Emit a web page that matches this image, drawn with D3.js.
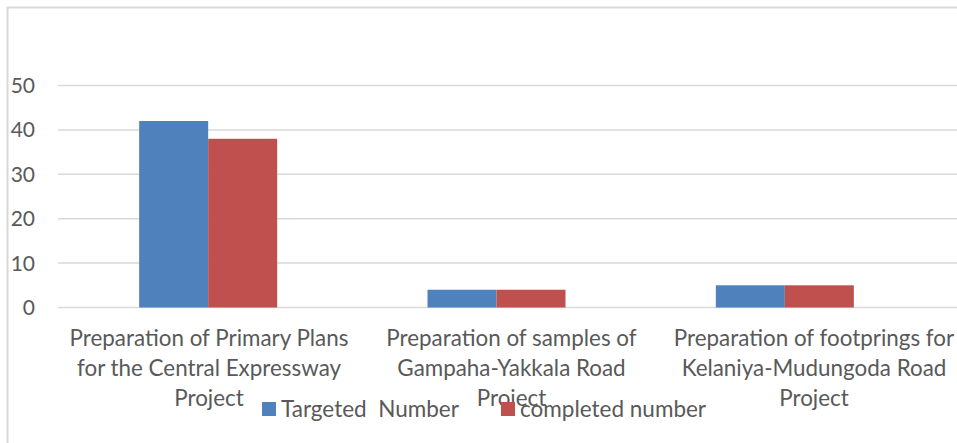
<!DOCTYPE html>
<html><head><meta charset="utf-8">
<script src="https://cdn.jsdelivr.net/npm/d3@7"></script>
<style>body{margin:0;background:#fff;} text{font-family:Lato,"Open Sans",sans-serif;fill:#595959;}</style>
</head><body><svg id="c" width="957" height="443"></svg>
<script>
const categories = [
  ["Preparation of Primary Plans","for the Central Expressway","Project"],
  ["Preparation of samples of","Gampaha-Yakkala Road","Project"],
  ["Preparation of footprings for","Kelaniya-Mudungoda Road","Project"]
];
const seriesNames = ["Targeted  Number","completed number"];
const targeted = [42, 4, 5];
const completed = [38, 4, 5];
const yTicks = [0,10,20,30,40,50];
const colors = ["#4f81bd","#c0504d"];

const svg = d3.select("#c");
// frame
svg.append("path").attr("d","M7.5,443 V7.5 H957").attr("fill","none").attr("stroke","#d9d9d9").attr("stroke-width",2);

const x = d3.scaleBand().domain(d3.range(categories.length)).range([64,929]);
const xLabel = d3.scalePoint().domain(d3.range(categories.length)).range([209,814]);
const y = d3.scaleLinear().domain([0,50]).range([307.5,85.5]);

// gridlines
svg.append("g").selectAll("line").data(yTicks).join("line")
  .attr("x1",58).attr("x2",957).attr("y1",d=>y(d)).attr("y2",d=>y(d))
  .attr("stroke","#d9d9d9").attr("stroke-width",1.5);

svg.append("g").selectAll("text").data(yTicks).join("text")
  .attr("x",35).attr("y",d=>y(d)+7.5).attr("text-anchor","end").attr("font-size",21).text(d=>d);

const barW = 69;
const data = [targeted, completed];
data.forEach((vals,si)=>{
  svg.append("g").selectAll("rect").data(vals).join("rect")
    .attr("x",(d,i)=>x(i)+x.bandwidth()/2 - barW + si*barW)
    .attr("width",barW)
    .attr("y",d=>y(d)).attr("height",d=>y(0)-y(d))
    .attr("fill",colors[si]);
});

// category labels
const cg = svg.append("g");
categories.forEach((lines,i)=>{
  lines.forEach((l,j)=>{
    cg.append("text").attr("x",xLabel(i)).attr("y",346+j*30)
      .attr("text-anchor","middle").attr("font-size",22.4).text(l);
  });
});

// legend
const leg = [{x:262,name:seriesNames[0],c:colors[0]},{x:501,name:seriesNames[1],c:colors[1]}];
leg.forEach(l=>{
  svg.append("rect").attr("x",l.x).attr("y",402).attr("width",14).attr("height",14).attr("fill",l.c);
  svg.append("text").attr("x",l.x+19).attr("y",417).attr("font-size",22.5).attr("xml:space","preserve").style("white-space","pre").text(l.name);
});
</script></body></html>
